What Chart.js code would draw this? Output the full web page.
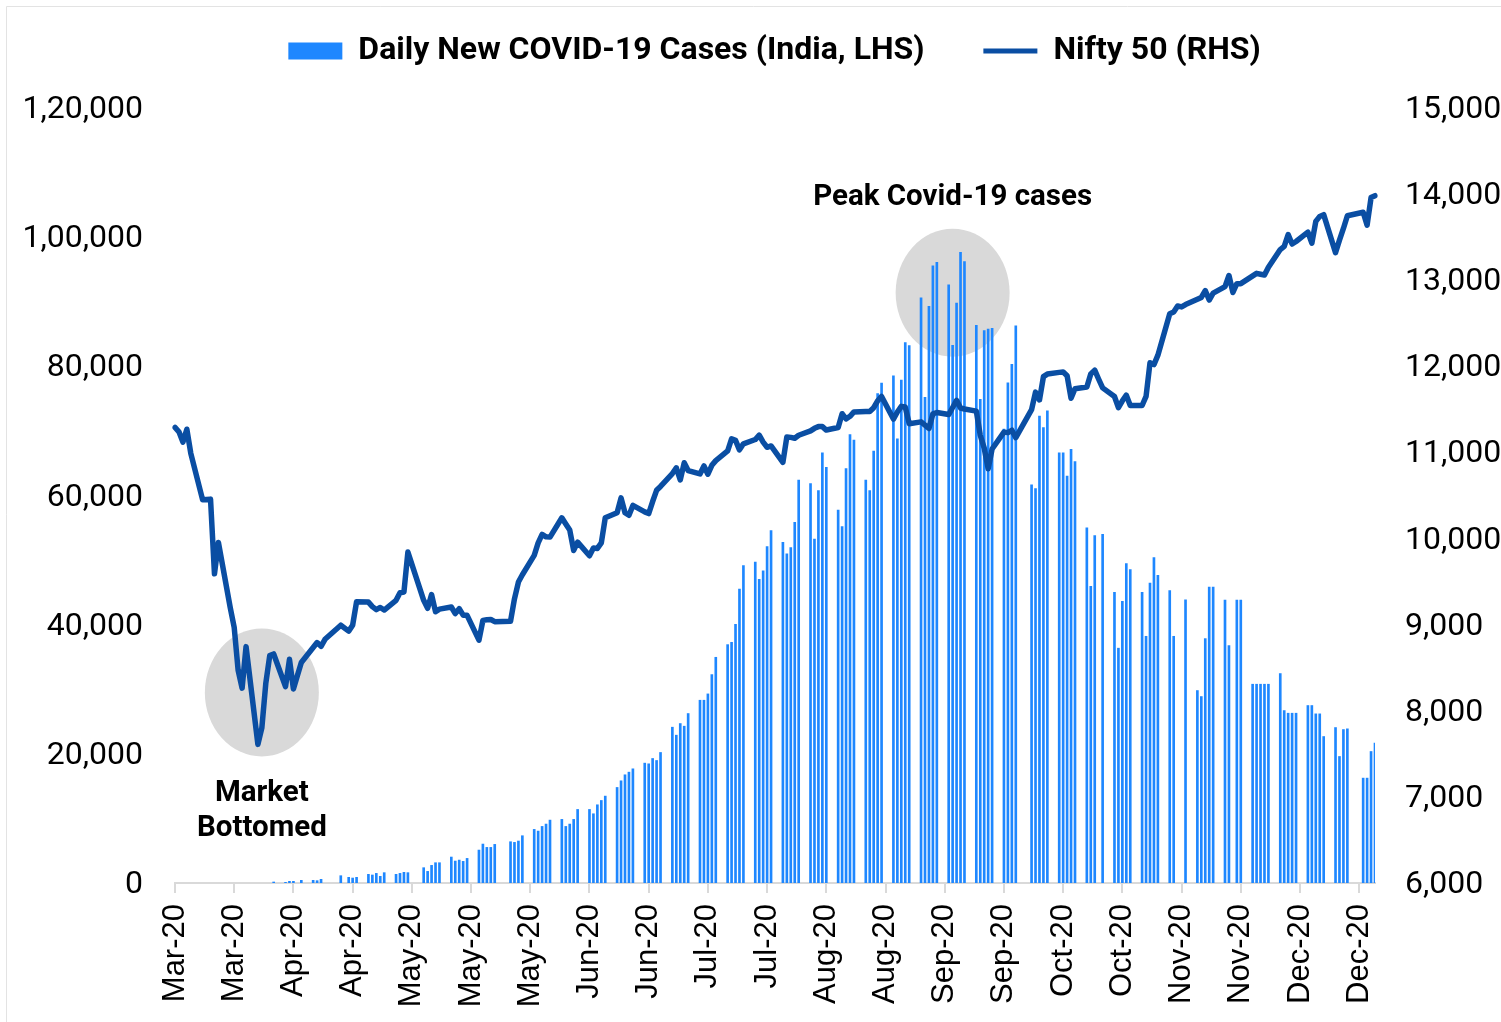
<!DOCTYPE html>
<html>
<head>
<meta charset="utf-8">
<title>Daily New COVID-19 Cases vs Nifty 50</title>
<script src="https://cdn.jsdelivr.net/npm/chart.js@4.4.1/dist/chart.umd.min.js"></script>
<style>
  html, body { margin: 0; padding: 0; background: #fff; }
  #chart { display: block; }
</style>
</head>
<body>
<canvas id="chart" width="1501" height="1022"></canvas>
<script>
// Calendar runs from 2 Mar 2020 to 31 Dec 2020, one category per day.
// Values below are given per weekday (Mon-Fri), null = no value that day.
const firstDay = [2020, 2, 2];
const lastDay = [2020, 11, 31];
const monthNames = ['Jan', 'Feb', 'Mar', 'Apr', 'May', 'Jun', 'Jul', 'Aug', 'Sep', 'Oct', 'Nov', 'Dec'];
const tickEvery = 15;

// Nifty 50 close (RHS), weekdays from Mon 2 Mar
const niftyClose = [
  11290, 11240, 11120, 11270, 10990,   // Mar 2
  10450, null, 10458, 9590, 9955,      // Mar 9
  9197, 8967, 8469, 8263, 8745,        // Mar 16
  7610, 7801, 8318, 8641, 8660,        // Mar 23
  8281, 8598, 8254, null, 8560,        // Mar 30
  null, 8792, 8749, 8830, null,        // Apr 6
  8994, null, 8925, 8993, 9267,        // Apr 13
  9262, 9210, 9175, 9200, 9170,        // Apr 20
  9283, 9371, 9380, 9843, null,        // Apr 27
  9283, 9190, 9350, 9150, 9180,        // May 4
  9205, 9128, 9186, 9110, 9108,        // May 11
  8820, 9050, 9058, 9060, 9035,        // May 18
  null, 9040, 9300, 9495, 9580,        // May 25
  9805, 9950, 10048, 10020, 10017,     // Jun 1
  10241, 10170, 10100, 9862, 9958,     // Jun 8
  9800, 9890, 9885, 9950, 10241,       // Jun 15
  10300, 10472, 10300, 10270, 10385,   // Jun 22
  10310, 10290, 10430, 10560, 10605,   // Jun 29
  10755, 10821, 10680, 10880, 10790,   // Jul 6
  10750, 10843, 10747, 10850, 10905,   // Jul 13
  11017, 11158, 11140, 11030, 11100,   // Jul 20
  11150, 11200, 11120, 11060, 11075,   // Jul 27
  10885, 11180, 11175, 11165, 11200,   // Aug 3
  11250, 11280, 11300, 11300, 11260,   // Aug 10
  11290, 11450, 11390, 11420, 11470,   // Aug 17
  11475, 11475, 11520, 11600, 11650,   // Aug 24
  11388, 11470, 11535, 11527, 11334,   // Aug 31
  11355, 11317, 11278, 11449, 11464,   // Sep 7
  11440, 11522, 11605, 11516, 11505,   // Sep 14
  11480, 11200, 11050, 10810, 11040,   // Sep 21
  11236, 11230, 11258, 11172, null,    // Sep 28
  11497, 11700, 11610, 11880, 11910,   // Oct 5
  11930, 11935, 11890, 11630, 11740,   // Oct 12
  11760, 11912, 11956, 11850, 11750,   // Oct 19
  11650, 11520, 11600, 11665, 11545,   // Oct 26
  11545, 11650, 12042, 12020, 12130,   // Nov 2
  12610, 12630, 12700, 12690, 12717,   // Nov 9
  null, 12800, 12880, 12770, 12850,    // Nov 16
  12926, 13055, 12858, 12960, 12960,   // Nov 23
  null, 13080, 13070, 13060, 13150,    // Nov 30
  13356, 13393, 13529, 13420, 13450,   // Dec 7
  13558, 13430, 13683, 13741, 13761,   // Dec 14
  13320, 13466, 13601, 13749, null,    // Dec 21
  13790, 13640, 13960, 13982           // Dec 28
];

// Daily new COVID-19 cases in India (LHS), weekdays from Mon 2 Mar
const dailyCases = [
  null, null, null, null, null,        // Mar 2
  null, null, null, null, null,        // Mar 9
  null, null, null, null, null,        // Mar 16
  null, null, null, null, 155,         // Mar 23
  100, 260, 260, null, 410,            // Mar 30
  410, 360, 570, null, null,           // Apr 6
  1130, null, 875, 770, 875,           // Apr 13
  1340, 1240, 1490, 1030, 1600,        // Apr 20
  1340, 1490, 1650, 1600, null,        // Apr 27
  2370, 1800, 2730, 3140, 3140,        // May 4
  4020, 3400, 3550, 3350, 3810,        // May 11
  5100, 6030, 5515, 5515, 5980,        // May 18
  null, 6390, 6290, 6500, 7320,        // May 25
  8300, 8040, 8760, 9125, 9740,        // Jun 1
  9850, 8760, 9125, 9850, 11390,       // Jun 8
  11390, 10720, 12110, 12780, 13455,   // Jun 15
  14795, 15825, 16755, 17165, 17680,   // Jun 22
  18560, 18455, 19280, 18970, 20210,   // Jun 29
  24125, 22890, 24690, 24280, 26240,   // Jul 6
  28300, 28300, 29280, 32270, 34950,   // Jul 13
  36910, 37270, 40055, 45520, 49130,   // Jul 20
  49700, 47010, 48350, 52100, 54560,   // Jul 27
  52760, 50970, 51930, 55840, 62380,   // Aug 3
  61860, 53270, 60770, 66600, 64360,   // Aug 10
  57760, 55190, 64170, 69430, 68600,   // Aug 17
  62400, 60770, 66860, 75800, 77400,   // Aug 24
  78530, 68780, 77890, 83660, 83210,   // Aug 31
  90590, 75200, 89300, 95580, 96100,   // Sep 7
  92630, 83270, 89810, 97640, 96230,   // Sep 14
  86350, 74880, 85520, 85780, 85900,   // Sep 21
  70300, 77430, 80300, 86280, null,    // Sep 28
  61640, 61090, 72310, 70500, 73100,   // Oct 5
  66600, 66600, 63000, 67130, 65260,   // Oct 12
  54990, 45950, 53810, null, 54000,    // Oct 19
  45000, 36360, 43600, 49450, 48520,   // Oct 26
  45000, 38200, 46420, 50400, 47640,   // Nov 2
  45270, 38200, null, null, 43850,     // Nov 9
  29800, 28870, 37840, 45830, 45830,   // Nov 16
  43820, 36760, null, 43820, 43820,    // Nov 23
  30780, 30780, 30780, 30780, 30780,   // Nov 30
  32430, 26700, 26290, 26290, 26290,   // Dec 7
  27480, 27480, 26190, 26190, 22680,   // Dec 14
  24070, 19590, 23760, 23870, null,    // Dec 21
  16240, 16240, 20360, 21650           // Dec 28
];

// Grey callouts: centre date + LHS value, with their text
const callouts = [
  { date: '2020-03-24', cases: 29500, lines: ['Market', 'Bottomed'], textOffset: [101, 136] },
  { date: '2020-09-15', cases: 91400, lines: ['Peak Covid-19 cases'], textOffset: [-95] }
];

// Build the daily category axis
const days = [];
for (let t = Date.UTC(...firstDay); t <= Date.UTC(...lastDay); t += 86400000) {
  days.push(new Date(t));
}
const dayLabels = days.map(d => d.toISOString().slice(0, 10));
const weekdayPos = [];
days.forEach((d, i) => {
  const wd = d.getUTCDay();
  if (wd >= 1 && wd <= 5) weekdayPos.push(i);
});

function onCalendar(values) {
  const out = new Array(days.length).fill(null);
  weekdayPos.forEach((pos, k) => { out[pos] = values[k] ?? null; });
  return out;
}

function indianFormat(n) {
  const s = String(Math.round(n));
  if (s.length <= 3) return s;
  let rest = s.slice(0, -3);
  const groups = [];
  while (rest.length > 2) {
    groups.unshift(rest.slice(-2));
    rest = rest.slice(0, -2);
  }
  if (rest) groups.unshift(rest);
  return groups.join(',') + ',' + s.slice(-3);
}

const barBlue = '#1E87FF';
const lineBlue = '#0A4EA3';

const calloutPlugin = {
  id: 'callouts',
  beforeDraw(chart) {
    // faint chart border, only top and left edges fall inside the picture
    const { ctx, width, height } = chart;
    ctx.save();
    ctx.strokeStyle = '#e3e3e3';
    ctx.lineWidth = 1;
    ctx.beginPath();
    ctx.moveTo(6.5, height);
    ctx.lineTo(6.5, 6.5);
    ctx.lineTo(width, 6.5);
    ctx.stroke();
    ctx.restore();
  },
  beforeDatasetsDraw(chart) {
    const { ctx, scales: { x, y } } = chart;
    ctx.save();
    ctx.fillStyle = '#d9d9d9';
    callouts.forEach(c => {
      const cx = x.getPixelForValue(dayLabels.indexOf(c.date));
      const cy = y.getPixelForValue(c.cases);
      ctx.beginPath();
      ctx.ellipse(cx, cy, 57, 64, 0, 0, Math.PI * 2);
      ctx.fill();
    });
    ctx.restore();
  },
  afterDatasetsDraw(chart) {
    const { ctx, scales: { x, y } } = chart;
    ctx.save();
    ctx.fillStyle = '#000';
    ctx.font = 'bold 29.5px Roboto';
    ctx.textAlign = 'center';
    ctx.textBaseline = 'middle';
    callouts.forEach(c => {
      const cx = x.getPixelForValue(dayLabels.indexOf(c.date));
      const cy = y.getPixelForValue(c.cases);
      c.lines.forEach((txt, i) => ctx.fillText(txt, cx, cy + c.textOffset[i]));
    });
    ctx.restore();
  }
};

// nudge the legend row a little to the right, like the original
const legendShift = {
  id: 'legendShift',
  afterLayout(chart) {
    chart.legend.left += 24;
    chart.legend.right += 24;
  }
};

new Chart(document.getElementById('chart'), {
  type: 'bar',
  data: {
    labels: dayLabels,
    datasets: [
      {
        type: 'bar',
        label: 'Daily New COVID-19 Cases (India, LHS)',
        data: onCalendar(dailyCases),
        yAxisID: 'y',
        backgroundColor: barBlue,
        barThickness: 2,
        order: 1
      },
      {
        type: 'line',
        label: 'Nifty 50 (RHS)',
        data: onCalendar(niftyClose),
        yAxisID: 'y1',
        borderColor: lineBlue,
        backgroundColor: lineBlue,
        borderWidth: 5.5,
        pointRadius: 0,
        tension: 0,
        spanGaps: true,
        borderJoinStyle: 'round',
        borderCapStyle: 'round',
        order: 0
      }
    ]
  },
  options: {
    responsive: false,
    devicePixelRatio: 1,
    animation: false,
    layout: { padding: 0 },
    plugins: {
      tooltip: { enabled: false },
      title: {
        display: true,
        text: '',
        padding: 0,
        font: { size: 31, lineHeight: 1 }
      },
      legend: {
        position: 'top',
        weight: 3000,
        labels: {
          usePointStyle: true,
          pointStyleWidth: 54,
          boxHeight: 17,
          padding: 35,
          color: '#000',
          font: { family: 'Roboto, sans-serif', size: 32, weight: 'bold' },
          generateLabels(chart) {
            return chart.data.datasets.map((ds, i) => ({
              text: ds.type === 'bar' ? ds.label + '   ' : ds.label,
              fillStyle: ds.type === 'bar' ? barBlue : lineBlue,
              strokeStyle: ds.type === 'bar' ? barBlue : lineBlue,
              lineWidth: ds.type === 'bar' ? 0 : 5,
              pointStyle: ds.type === 'bar' ? 'rect' : 'line',
              fontColor: '#000',
              hidden: false,
              datasetIndex: i
            }));
          }
        }
      }
    },
    scales: {
      x: {
        type: 'category',
        offset: false,
        grid: {
          offset: false,
          drawOnChartArea: false,
          color: '#d9d9d9',
          lineWidth: 2,
          tickLength: 10
        },
        border: { color: '#d9d9d9', width: 2 },
        ticks: {
          autoSkip: false,
          maxRotation: 90,
          minRotation: 90,
          padding: 11,
          color: '#000',
          font: { family: "'Liberation Sans', Arial, sans-serif", size: 31 },
          callback(value, index) {
            if (index % tickEvery !== 0) return null;
            const d = days[index];
            return monthNames[d.getUTCMonth()] + '-' + String(d.getUTCFullYear()).slice(2);
          }
        },
        afterFit(scale) { scale.height = 139; }
      },
      y: {
        position: 'left',
        min: 0,
        max: 120000,
        grid: { display: false, drawTicks: false },
        border: { display: false },
        ticks: {
          stepSize: 20000,
          padding: 32,
          labelOffset: 2,
          color: '#000',
          font: { family: 'Roboto, sans-serif', size: 32 },
          callback: v => indianFormat(v)
        },
        afterFit(scale) { scale.width = 175; }
      },
      y1: {
        position: 'right',
        min: 6000,
        max: 15000,
        grid: { display: false, drawTicks: false },
        border: { display: false },
        ticks: {
          stepSize: 1000,
          padding: 30,
          labelOffset: 2,
          color: '#000',
          font: { family: 'Roboto, sans-serif', size: 32 },
          callback: v => indianFormat(v)
        },
        afterFit(scale) { scale.width = 126; }
      }
    }
  },
  plugins: [calloutPlugin, legendShift]
});
</script>
</body>
</html>
